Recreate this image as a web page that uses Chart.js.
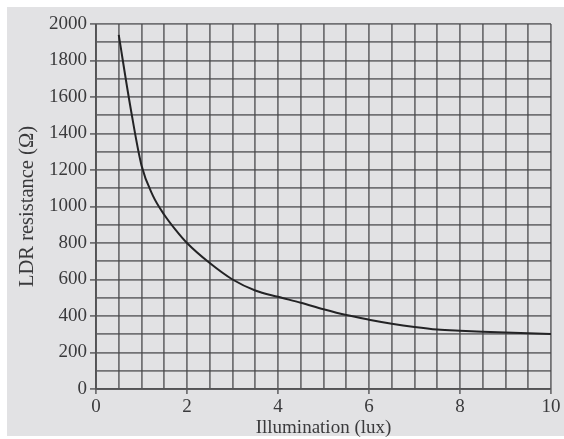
<!DOCTYPE html>
<html>
<head>
<meta charset="utf-8">
<script src="https://cdn.jsdelivr.net/npm/chart.js@4.4.0/dist/chart.umd.min.js"></script>
<style>
    body { margin: 0; background: #ffffff; }
    #wrap { position: relative; width: 564px; height: 439px; }
    #paper { position: absolute; left: 7px; top: 7px; width: 557px; height: 429px; background: #e2e2e4; }
    #chart { position: absolute; left: 0; top: 0; }
</style>
</head>
<body>
<div id="wrap">
    <div id="paper"></div>
    <canvas id="chart" width="564" height="439"></canvas>
</div>
<script>
// Illumination (lux) vs LDR resistance (ohm)
const lux = [0.5, 0.75, 1, 1.25, 1.5, 1.75, 2, 2.5, 3, 3.5, 4, 4.5, 5, 5.5, 6, 6.5, 7, 7.5, 8, 8.5, 9, 9.5, 10];
const resistance = [1940, 1555, 1225, 1060, 955, 872, 800, 690, 600, 540, 505, 473, 437, 405, 380, 358, 340, 326, 319, 314, 310, 306, 301];
const xLabels = [0, 2, 4, 6, 8, 10];
const yLabels = [0, 200, 400, 600, 800, 1000, 1200, 1400, 1600, 1800, 2000];

const points = lux.map((x, i) => ({ x: x, y: resistance[i] }));
const serif = '"Liberation Serif", "Times New Roman", serif';
const gridColor = 'rgba(70, 70, 74, 0.72)';

const ctx = document.getElementById('chart').getContext('2d');
new Chart(ctx, {
    type: 'line',
    data: {
        datasets: [{
            data: points,
            borderColor: '#232325',
            borderWidth: 2,
            pointRadius: 0,
            cubicInterpolationMode: 'monotone',
            fill: false
        }]
    },
    options: {
        responsive: false,
        animation: false,
        layout: { padding: { top: 24, right: 13, left: 0, bottom: 0 } },
        plugins: { legend: { display: false }, tooltip: { enabled: false } },
        scales: {
            x: {
                type: 'linear',
                min: 0,
                max: 10,
                afterFit: function (scale) { scale.height = 50; },
                border: { display: true, color: gridColor, width: 2 },
                grid: {
                    color: gridColor,
                    lineWidth: 1.8,
                    tickLength: 5,
                    tickColor: function (c) {
                        return xLabels.includes(c.tick.value) ? gridColor : 'rgba(0,0,0,0)';
                    }
                },
                ticks: {
                    stepSize: 0.5,
                    autoSkip: false,
                    maxRotation: 0,
                    padding: 2,
                    color: '#3a3a3c',
                    font: { family: serif, size: 19 },
                    callback: function (v) { return xLabels.includes(v) ? String(v) : ''; }
                },
                title: {
                    display: true,
                    text: 'Illumination (lux)',
                    color: '#3a3a3c',
                    padding: { top: 0, bottom: 0 },
                    font: { family: serif, size: 19 }
                }
            },
            y: {
                min: 0,
                max: 2000,
                afterFit: function (scale) { scale.width = 96; },
                border: { display: true, color: gridColor, width: 2 },
                grid: {
                    color: gridColor,
                    lineWidth: 1.8,
                    tickLength: 6,
                    tickColor: function (c) {
                        return yLabels.includes(c.tick.value) ? gridColor : 'rgba(0,0,0,0)';
                    }
                },
                ticks: {
                    stepSize: 100,
                    autoSkip: false,
                    padding: 3,
                    color: '#3a3a3c',
                    font: { family: serif, size: 19 },
                    callback: function (v) { return yLabels.includes(v) ? String(v) : ''; }
                },
                title: {
                    display: true,
                    text: 'LDR resistance (Ω)',
                    color: '#3a3a3c',
                    padding: { top: 15, bottom: 2 },
                    font: { family: serif, size: 20.5 }
                }
            }
        }
    }
});
</script>
</body>
</html>
